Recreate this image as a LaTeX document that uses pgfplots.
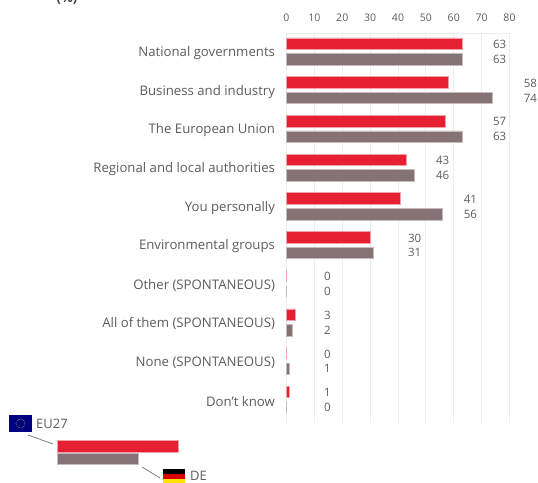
\documentclass[border=0pt]{standalone}
\usepackage{fontspec}
\setmainfont{Open Sans}
\usepackage{pgfplots}
\usepackage{pgfplotstable}
\pgfplotsset{compat=1.18}
\definecolor{barred}{HTML}{E61F33}
\definecolor{bargray}{HTML}{857274}
\definecolor{redrim}{HTML}{F0A0A8}
\definecolor{grayrim}{HTML}{C6BBBC}
\definecolor{gridc}{HTML}{ECECEC}
\definecolor{txt}{HTML}{5C5C5C}
\pgfplotstableread{
row eu de
0 63 63
1 58 74
2 57 63
3 43 46
4 41 56
5 30 31
6 0 0
7 3 2
8 0 1
9 1 0
}\datatab
% label positions, in axis units
\pgfplotstableread{
lx y lab
76.5 -0.18 63
76.5 0.2 63
87.5 0.82 58
87.5 1.2 74
76.5 1.82 57
76.5 2.2 63
56 2.82 43
56 3.2 46
66 3.82 41
66 4.2 56
46 4.82 30
46 5.2 31
14.7 5.82 0
14.7 6.2 0
14.7 6.82 3
14.7 7.2 2
14.7 7.82 0
14.7 8.2 1
14.7 8.82 1
14.7 9.2 0
}\labtab
\begin{document}
\begin{tikzpicture}[x=1pt,y=1pt]
\clip[use as bounding box] (0,0) rectangle (538,482);
\begin{axis}[
  at={(286.5pt,59pt)}, anchor=south west,
  scale only axis, width=223pt, height=390pt,
  xmin=0, xmax=80, ymin=-0.478, ymax=9.6, y dir=reverse,
  axis x line*=top, axis y line*=left,
  x axis line style={draw=gridc,-},
  y axis line style={draw=none},
  xtick={0,10,...,80},
  ytick={0,...,9},
  yticklabels={National governments,Business and industry,The European Union,Regional and local authorities,You personally,Environmental groups,Other (SPONTANEOUS),All of them (SPONTANEOUS),None (SPONTANEOUS),Don't know},
  xmajorgrids, x grid style={gridc,line width=1pt},
  major tick length=0pt,
  tick label style={text=txt},
  xticklabel style={font=\fontsize{10.5}{12}\selectfont, yshift=8pt},
  yticklabel style={font=\fontsize{13.2}{15}\selectfont, xshift=-8pt, yshift=-1.5pt},
  /pgf/number format/assume math mode=true,
  clip=false,
]
\addplot[xbar, bar width=11.5pt, fill=barred,draw=redrim,line width=0.6pt,bar shift=7.8pt] table[x=eu,y=row]{\datatab};
\addplot[xbar, bar width=11.5pt, fill=bargray,draw=grayrim,line width=0.6pt,bar shift=-7.8pt] table[x=de,y=row]{\datatab};
\addplot[forget plot, only marks, mark=none, draw=none,
  nodes near coords, point meta=explicit symbolic,
  nodes near coords align={center},
  every node near coord/.append style={anchor=center,text=txt,inner sep=0pt,font=\fontsize{11.5}{14}\selectfont}]
  table[x=lx,y=y,meta=lab]{\labtab};
\end{axis}
% legend key bars
\begin{axis}[
  at={(57pt,17pt)}, anchor=south west,
  scale only axis, width=121pt, height=25pt,
  xmin=0, xmax=121, ymin=-0.5, ymax=1.5, y dir=reverse,
  hide axis, clip=false,
]
\addplot[xbar, bar width=11.5pt, fill=barred,draw=redrim,line width=0.6pt,bar shift=0pt] coordinates {(121,0)};
\addplot[xbar, bar width=11.5pt, fill=bargray,draw=grayrim,line width=0.6pt,bar shift=0pt] coordinates {(81,1)};
\end{axis}
% legend flags and leaders
\fill[fill=black!10!blue!55!black] (9,482-432) rectangle (32,482-415);
\draw[yellow!80!black,densely dotted,line width=0.5pt] (20.5,482-423.5) circle (4.5);
\draw[gray,line width=0.8pt] (28,482-435) -- (53,482-444);
\draw[gray,line width=0.8pt] (142,482-467) -- (160,482-478);
\node[anchor=west,inner sep=0pt,text=txt,font=\fontsize{13}{15}\selectfont] at (36,482-424) {EU27};
\fill[black] (163,482-474) rectangle (185,482-469);
\fill[red!85!black] (163,482-479) rectangle (185,482-474);
\fill[yellow!85!orange] (163,482-484) rectangle (185,482-479);
\node[anchor=west,inner sep=0pt,text=txt,font=\fontsize{13}{15}\selectfont] at (190,482-475.5) {DE};
\node[inner sep=0pt,text=black!75,font=\bfseries\fontsize{13}{15}\selectfont] at (67,482+1) {(\%)};
\end{tikzpicture}
\end{document}
